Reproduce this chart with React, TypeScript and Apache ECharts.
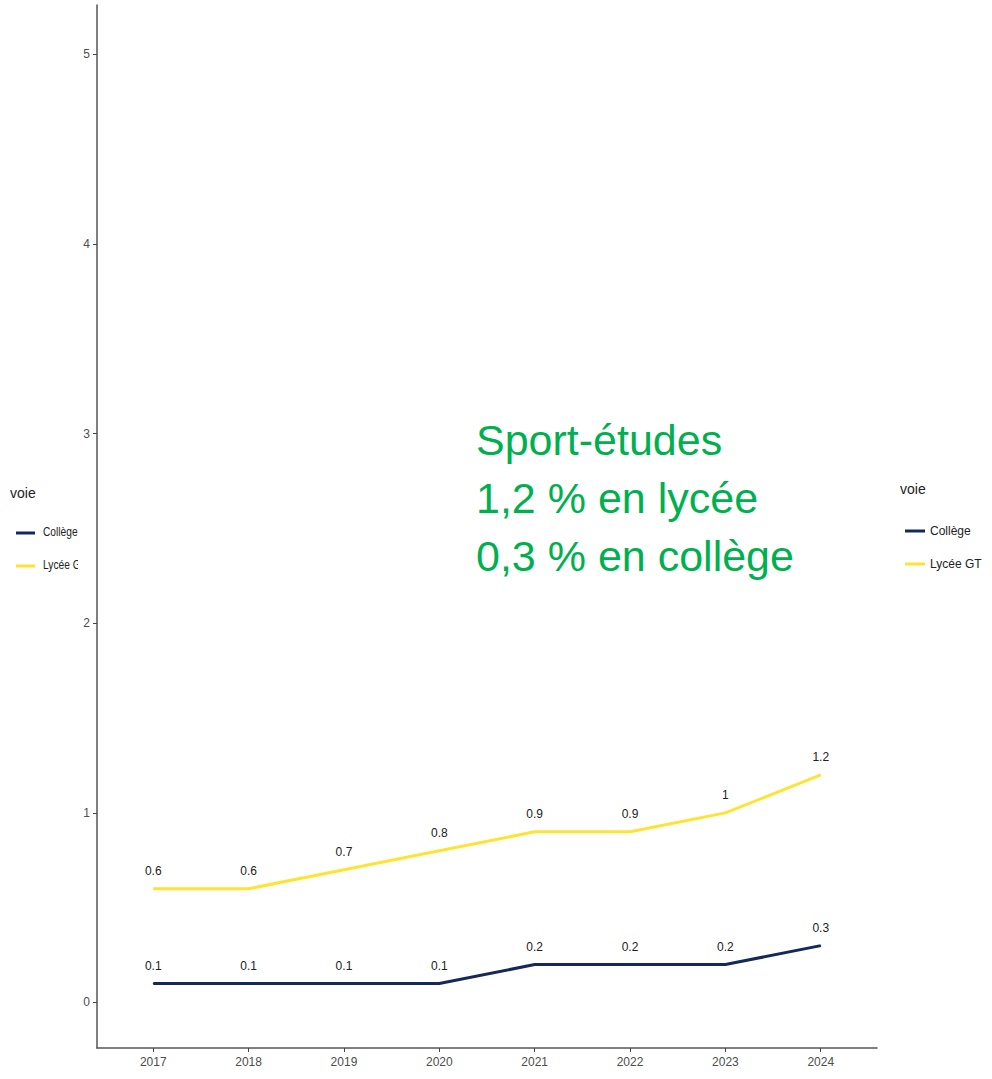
import React, { useEffect, useRef } from "react";
import * as echarts from "echarts";

const years = [2017, 2018, 2019, 2020, 2021, 2022, 2023, 2024];
const college = [0.1, 0.1, 0.1, 0.1, 0.2, 0.2, 0.2, 0.3];
const lycee = [0.6, 0.6, 0.7, 0.8, 0.9, 0.9, 1, 1.2];
const yTicks = [0, 1, 2, 3, 4, 5];
const seriesNames = ["Collège", "Lycée GT"];
const annotation = ["Sport-études", "1,2 % en lycée", "0,3 % en collège"];

const NAVY = "#14295a";
const YELLOW = "#fde433";
const FONT = "'Liberation Sans', Arial, sans-serif";

export default function App() {
  const ref = useRef<HTMLDivElement>(null);
  useEffect(() => {
    if (!ref.current) return;
    const chart = echarts.init(ref.current, undefined, { renderer: "svg" });
    const mk = (vals: number[]) => years.map((y, i) => [y, vals[i]]);
    const labelCfg = {
      show: true,
      position: "top",
      distance: 11,
      color: "#222",
      fontSize: 12,
      fontFamily: FONT,
      formatter: (p: any) => String(p.value[1]),
    };
    const option: any = {
      animation: false,
      backgroundColor: "#fff",
      grid: { left: 97, right: 115, top: 5, bottom: 31, containLabel: false },
      xAxis: {
        type: "value",
        min: 2016.41,
        max: 2024.59,
        splitLine: { show: false },
        axisLine: { show: true, onZero: false, lineStyle: { color: "#555", width: 1.5 } },
        axisTick: { show: true, length: 4, lineStyle: { color: "#444" }, customValues: years },
        axisLabel: {
          color: "#4d4d4d",
          fontSize: 12,
          fontFamily: FONT,
          margin: 8,
          customValues: years,
          formatter: (v: number) => String(v),
        },
      },
      yAxis: {
        type: "value",
        min: -0.24,
        max: 5.26,
        splitLine: { show: false },
        axisLine: { show: true, onZero: false, lineStyle: { color: "#555", width: 1.5 } },
        axisTick: { show: true, length: 4, lineStyle: { color: "#444" }, customValues: yTicks },
        axisLabel: {
          color: "#4d4d4d",
          fontSize: 12,
          fontFamily: FONT,
          margin: 7,
          customValues: yTicks,
          formatter: (v: number) => String(v),
        },
      },
      legend: {
        orient: "vertical",
        left: 900,
        top: 520,
        itemWidth: 20,
        itemHeight: 3,
        itemGap: 21,
        icon: "rect",
        textStyle: { color: "#222", fontSize: 12, fontFamily: FONT },
        data: seriesNames,
      },
      series: [
        {
          name: seriesNames[0],
          type: "line",
          data: mk(college),
          symbol: "circle",
          symbolSize: 1,
          lineStyle: { color: NAVY, width: 3 },
          itemStyle: { color: NAVY },
          label: labelCfg,
        },
        {
          name: seriesNames[1],
          type: "line",
          data: mk(lycee),
          symbol: "circle",
          symbolSize: 1,
          lineStyle: { color: YELLOW, width: 3 },
          itemStyle: { color: YELLOW },
          label: labelCfg,
        },
      ],
      graphic: [
        {
          type: "text",
          left: 900,
          top: 482,
          style: { text: "voie", fill: "#222", fontSize: 14, fontFamily: FONT },
        },
        {
          type: "text",
          left: 476,
          top: 411,
          style: {
            text: annotation.join("\n"),
            fill: "#00b050",
            fontSize: 43,
            lineHeight: 58,
            fontFamily: FONT,
          },
        },
        // clipped left legend
        {
          type: "text",
          left: 10,
          top: 486,
          style: { text: "voie", fill: "#222", fontSize: 14, fontFamily: FONT },
        },
        {
          type: "line",
          shape: { x1: 16, y1: 533, x2: 35, y2: 533 },
          style: { stroke: NAVY, lineWidth: 3 },
        },
        {
          type: "text",
          x: 43,
          y: 526,
          scaleX: 0.85,
          style: { text: seriesNames[0], fill: "#222", fontSize: 12, fontFamily: FONT },
        },
        {
          type: "line",
          shape: { x1: 16, y1: 566, x2: 35, y2: 566 },
          style: { stroke: YELLOW, lineWidth: 3 },
        },
        {
          type: "text",
          x: 43,
          y: 559,
          scaleX: 0.85,
          style: { text: seriesNames[1], fill: "#222", fontSize: 12, fontFamily: FONT },
        },
        {
          type: "rect",
          shape: { x: 78, y: 470, width: 17, height: 130 },
          style: { fill: "#fff" },
          z: 100,
        },
      ],
    };
    chart.setOption(option);
    return () => chart.dispose();
  }, []);
  return (
    <div
      ref={ref}
      style={{ position: "fixed", left: 0, top: 0, width: 992, height: 1079 }}
    />
  );
}
